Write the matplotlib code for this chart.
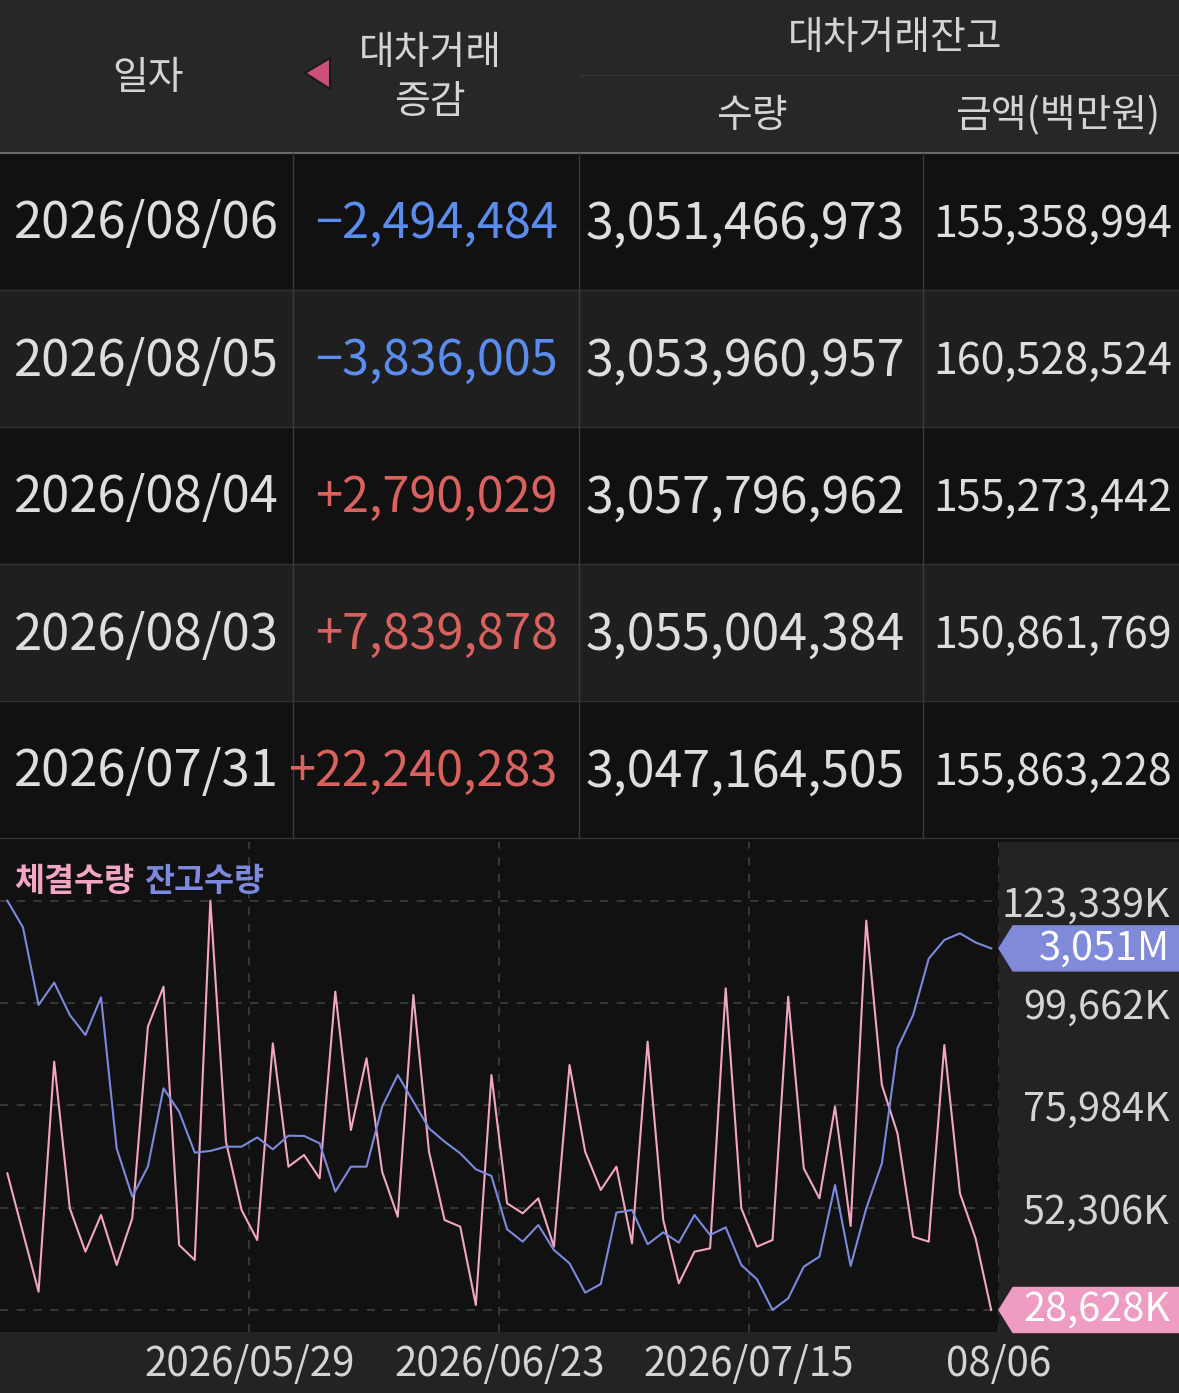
import numpy as np
import matplotlib.pyplot as plt
from matplotlib.patches import Rectangle, Polygon

plt.rcParams['font.family'] = ['Noto Sans CJK KR', 'DejaVu Sans']

W, H = 1179, 1393

# table data
dates = ['2026/08/06', '2026/08/05', '2026/08/04', '2026/08/03', '2026/07/31']
changes = [-2494484, -3836005, 2790029, 7839878, 22240283]
bal_qty = [3051466973, 3053960957, 3057796962, 3055004384, 3047164505]
bal_amt = [155358994, 160528524, 155273442, 150861769, 155863228]

# chart data (64 trading days)
volume_k = [60251, 46522, 32870, 86090, 52153, 42126, 50610, 39041, 49839, 94189,
            103444, 43668, 40198, 123339, 67579, 51767, 44825, 90332, 61794, 64493,
            59094, 102287, 70278, 86861, 60637, 50224, 101516, 65265, 49453, 47911,
            29785, 83005, 53310, 50996, 54467, 43283, 85319, 65265, 56395, 61794,
            44054, 90718, 49453, 34798, 42126, 42897, 103058, 52153, 43283, 44825,
            101130, 61408, 54467, 75677, 48065, 118716, 80691, 69507, 45597, 44440,
            89946, 55624, 45211, 28628]
balance_m = [3071.5, 3060.3, 3027.7, 3037.1, 3023.5, 3015.1, 3030.9, 2967.5, 2947.2, 2959.8,
             2992.7, 2982.9, 2965.7, 2966.4, 2968.2, 2968.2, 2972.1, 2967.1, 2972.8, 2972.7,
             2969.6, 2949.3, 2959.8, 2959.8, 2985.0, 2998.3, 2987.1, 2975.9, 2970.3, 2965.4,
             2958.7, 2955.9, 2933.5, 2928.3, 2935.3, 2924.8, 2919.2, 2906.9, 2910.5, 2940.5,
             2941.6, 2927.2, 2932.2, 2927.9, 2939.5, 2931.1, 2934.3, 2918.5, 2912.5, 2899.6,
             2904.5, 2917.8, 2922.0, 2952.1, 2918.1, 2942.3, 2961.2, 3009.5, 3023.5, 3047.165,
             3055.004, 3057.797, 3053.961, 3051.467]
x_labels = ['2026/05/29', '2026/06/23', '2026/07/15', '08/06']
x_label_idx = [15, 31, 47, 63]
y_tick_labels = ['28,628K', '52,306K', '75,984K', '99,662K', '123,339K']

PINK = '#f2a5c5'
BLUE = '#7d89dc'
TXT = '#d4d4d4'

fig = plt.figure(figsize=(W / 100, H / 100), dpi=100)
fig.patch.set_facecolor('#111111')

bg = fig.add_axes([0, 0, 1, 1], zorder=0)
bg.set_xlim(0, W)
bg.set_ylim(H, 0)
bg.axis('off')

# header
bg.add_patch(Rectangle((0, 0), W, 153, color='#272727'))
bg.plot([580, W], [75, 75], color='#353535', lw=1)
bg.plot([0, W], [153, 153], color='#6a6a6a', lw=1.5)
bg.text(148, 78, '일자', color=TXT, fontsize=28, ha='center', va='center')
bg.add_patch(Polygon([(305, 73), (330, 58), (330, 89)], closed=True,
                     facecolor='#cc4f80', edgecolor='#1a1a1a', lw=1.5))
bg.text(430, 53, '대차거래', color=TXT, fontsize=28, ha='center', va='center')
bg.text(430, 102, '증감', color=TXT, fontsize=28, ha='center', va='center')
bg.text(895, 38, '대차거래잔고', color=TXT, fontsize=28, ha='center', va='center')
bg.text(752, 116, '수량', color=TXT, fontsize=28, ha='center', va='center')
bg.text(1058, 116, '금액(백만원)', color=TXT, fontsize=28, ha='center', va='center')

# rows
row_h = 137
for i in range(len(dates)):
    top = 153 + i * row_h
    yc = top + row_h / 2 + 3
    bg.add_patch(Rectangle((0, top), W, row_h, color='#111111' if i % 2 == 0 else '#1f1f1f'))
    bg.plot([0, W], [top + row_h, top + row_h], color='#333333', lw=1)
    for xs in [293, 579, 923]:
        bg.plot([xs, xs], [top, top + row_h], color='#3a3a3a', lw=1)
    c = changes[i]
    ctxt = ('+' if c > 0 else '\u2212') + f'{abs(c):,}'
    bg.text(146, yc, dates[i], color='#dedede', fontsize=36.5, ha='center', va='center')
    bg.text(558, yc, ctxt, color='#d9625f' if c > 0 else '#5b8def',
            fontsize=35, ha='right', va='center')
    bg.text(905, yc, f'{bal_qty[i]:,}', color='#dedede', fontsize=36, ha='right', va='center')
    bg.text(1172, yc, f'{bal_amt[i]:,}', color='#dedede', fontsize=31, ha='right', va='center')

# chart backgrounds
bg.add_patch(Rectangle((0, 842), W, H - 842, color='#232323'))

ch_top, ch_bot, ch_right = 842, 1332, 999
g_top, g_bot = 900.7, 1310
ax = fig.add_axes([0, (H - ch_bot) / H, ch_right / W, (ch_bot - ch_top) / H], zorder=1)
ax.set_facecolor('#111111')
x = np.arange(len(volume_k))


def lims(vals):
    lo, hi = min(vals), max(vals)
    span = hi - lo
    k = span / (g_bot - g_top)
    return lo - (ch_bot - g_bot) * k, hi + (g_top - ch_top) * k


ax2 = ax.twinx()
ax2.set_ylim(*lims(balance_m))
ax2.plot(x, balance_m, color=BLUE, lw=1.5, zorder=3)
ax2.set_yticks([])
for s in ax2.spines.values():
    s.set_visible(False)

ax.set_xlim(-0.47, 63.5)
ax.set_ylim(*lims(volume_k))
ax.plot(x, volume_k, color=PINK, lw=1.5, zorder=3)
ax.set_yticks(np.linspace(min(volume_k), max(volume_k), 5))
ax.set_yticklabels(y_tick_labels)
ax.yaxis.tick_right()
ax.tick_params(axis='y', length=0, pad=123, labelsize=28.5, labelcolor=TXT,
               labelleft=False, labelright=True)
ylabs = ax.yaxis.get_majorticklabels()
for lab in ylabs:
    lab.set_ha('right')
ylabs[0].set_visible(False)  # covered by the current-value box
ax.set_xticks(np.array(x_label_idx) + 0.5)
ax.set_xticklabels(x_labels)
ax.tick_params(axis='x', length=0, pad=9, labelsize=29, labelcolor=TXT)
ax.grid(True, color='#3e3e3e', lw=1.2, ls=(0, (5, 5)))
for s in ax.spines.values():
    s.set_visible(False)

# overlay: legend + current value boxes
fg = fig.add_axes([0, 0, 1, 1], zorder=5)
fg.set_xlim(0, W)
fg.set_ylim(H, 0)
fg.axis('off')
fg.patch.set_alpha(0)
fg.text(14, 881, '체결수량', color=PINK, fontsize=23.5, fontweight='bold', ha='left', va='center')
fg.text(144, 881, '잔고수량', color=BLUE, fontsize=23.5, fontweight='bold', ha='left', va='center')


def value_box(axis, val, label, color):
    yc = H - axis.transData.transform((x[-1], val))[1]
    fg.add_patch(Polygon([(999, yc), (1013, yc - 22.5), (W, yc - 22.5), (W, yc + 22.5),
                          (1013, yc + 22.5)], closed=True, color=color))
    fg.text(1170, yc, label, color='white', fontsize=28.5, ha='right', va='center')


value_box(ax2, balance_m[-1], f'{balance_m[-1]:,.0f}M', '#7f8ad9')
value_box(ax, volume_k[-1], f'{volume_k[-1]:,}K', '#ee9cc1')

fig.savefig('out.png', dpi=100, facecolor=fig.get_facecolor())
